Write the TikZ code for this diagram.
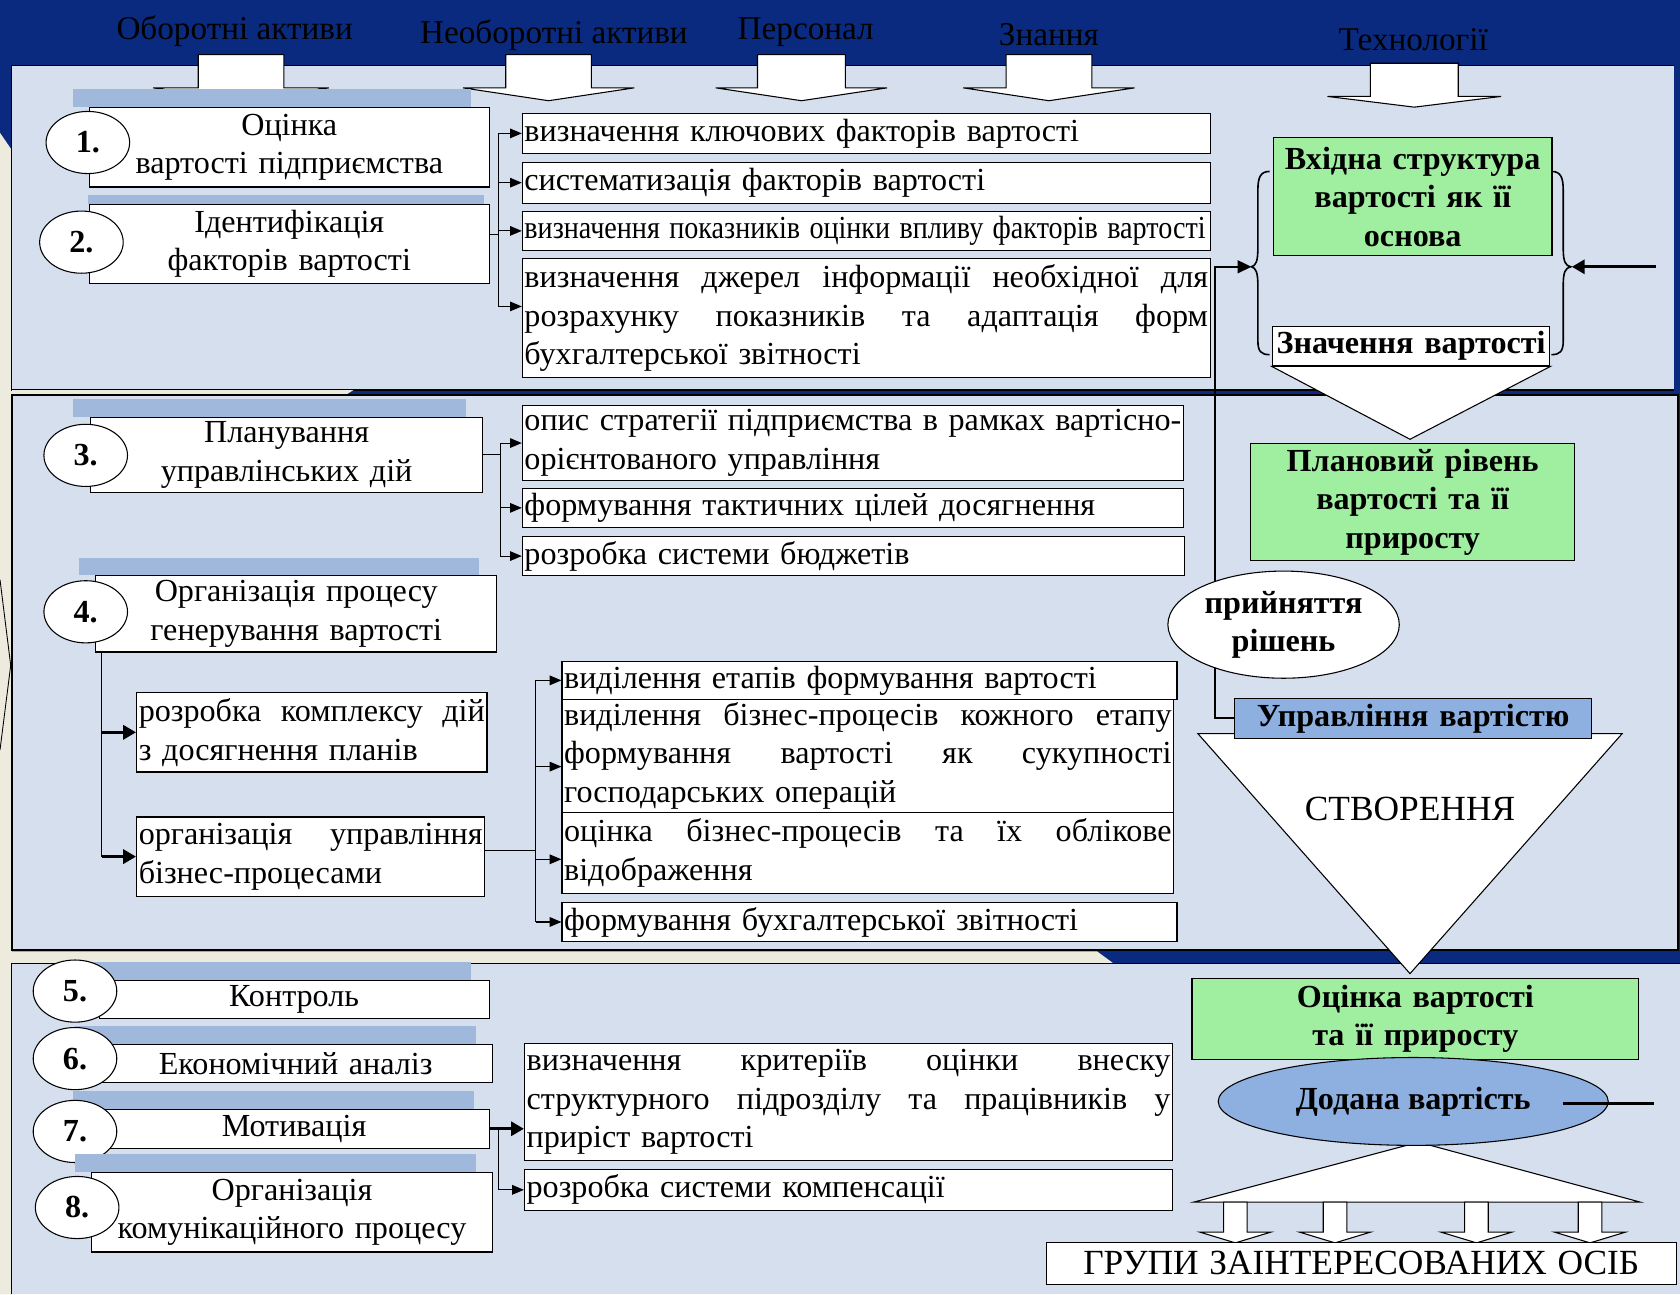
\documentclass[tikz,border=0pt]{standalone}
\usepackage{fontspec}
\usepackage{graphicx}
\setmainfont{Liberation Serif}
\usetikzlibrary{shapes.geometric,arrows.meta}
\definecolor{navy}{RGB}{10,42,128}
\definecolor{panel}{RGB}{214,223,238}
\definecolor{beige}{RGB}{237,235,222}
\definecolor{barblue}{RGB}{160,184,220}
\definecolor{lgreen}{RGB}{160,238,160}
\definecolor{sblue}{RGB}{141,176,224}
\newcommand\jl[1]{{\spaceskip=0.25em plus 20em\xspaceskip=0.25em plus 20em\makebox[\hsize][s]{#1}}\par}
\newcommand\bx[7]{\pgfmathsetmacro\tw{#4-4}\node[#6, minimum width=#4pt, minimum height=#5pt, text width=\tw pt] (#1) at (#2,#3) {#7};}
\newcommand\barrow[6]{\draw[blockarrow] (#1-#5,#2) -- (#1+#5,#2) -- (#1+#5,#3) -- (#1+#6,#3) -- (#1,#4) -- (#1-#6,#3) -- (#1-#5,#3) -- cycle;}
\begin{document}
\begin{tikzpicture}[x=1pt,y=-1pt,
  every node/.style={font=\fontsize{30}{36}\selectfont, inner sep=0pt},
  box/.style={draw=black, fill=white, line width=1pt, anchor=north west, inner xsep=2pt, inner ysep=0pt, align=left},
  cbox/.style={box, align=center},
  gbox/.style={box, fill=lgreen, align=center, font=\fontsize{30}{36}\selectfont\bfseries},
  num/.style={ellipse, draw=black, fill=white, line width=1pt, minimum width=78pt, minimum height=58pt, font=\fontsize{30}{34}\selectfont\bfseries},
  bar/.style={fill=barblue, draw=none},
  conn/.style={line width=1pt},
  arr/.style={line width=1pt, -{Triangle[length=11pt,width=9pt]}},
  tarr/.style={line width=3pt, -{Triangle[length=12pt,width=13pt]}},
  blockarrow/.style={draw=black, fill=white, line width=1pt},
  toplabel/.style={font=\fontsize{31}{36}\selectfont},
]
\useasboundingbox (0,0) rectangle (1568,1208);
% backgrounds
\fill[navy] (0,0) rectangle (1568,1208);
\fill[beige] (0,124) -- (11,140) -- (11,1208) -- (0,1208) -- cycle;
\fill[panel] (11,61) rectangle (1562,364);
\draw[line width=1.2pt] (1562,61) -- (11,61) -- (11,364) -- (1562,364);
\fill[beige] (11,364) -- (330,364) -- (322,369) -- (11,369) -- cycle;
\fill[panel] (11,369) rectangle (1566,887);
\draw[line width=2pt] (11,369) rectangle (1566,887);
\fill[beige] (11,888) -- (1024,888) -- (1039,899) -- (11,899) -- cycle;
\fill[panel] (11,899) rectangle (1568,1208);
\draw[line width=1.2pt] (1568,899) -- (11,899) -- (11,1208);
\draw[line width=0.8pt] (0,541) -- (10,621) -- (0,700);

% top labels and block arrows
\node[toplabel] (l1) at (219,29) {Оборотні активи};
\node[toplabel] (l2) at (517,33) {Необоротні активи};
\node[toplabel] (l3) at (752,30) {Персонал};
\node[toplabel] (l4) at (979,32) {Знання};
\node[toplabel] (l5) at (1319,37) {Технології};
\barrow{225}{51}{82}{94}{40}{82}
\barrow{512}{51}{82}{94}{40}{80}
\barrow{748}{51}{82}{94}{41}{80}
\barrow{979}{51}{82}{94}{40}{80}
\barrow{1320}{59}{90}{100}{41}{81}

% ---------- panel 1 ----------
\fill[bar] (68,83) rectangle (440,100);
\bx{s1}{83}{100}{373}{74}{cbox}{Оцінка\\вартості підприємства}
\fill[bar] (82,182) rectangle (452,190);
\bx{s2}{83}{190}{373}{74}{cbox}{Ідентифікація\\факторів вартості}
\node[num] (n1) at (82,133) {1.};
\node[num] (n2) at (76,226) {2.};

\bx{b1}{487}{105}{642}{38}{box}{визначення ключових факторів вартості}
\bx{b2}{487}{151}{642}{38}{box}{систематизація факторів вартості}
\bx{b3}{487}{197}{642}{36}{box}{\scalebox{0.875}[1]{визначення показників оцінки впливу факторів вартості}}
\bx{b4}{487}{241}{642}{111}{box}{\jl{визначення джерел інформації необхідної для}\jl{розрахунку показників та адаптація форм}бухгалтерської звітності}
\coordinate (bus1) at (465,0);
\draw[conn] (b1.west -| bus1) -- ([yshift=11pt]b4.west -| bus1);
\draw[conn] ([yshift=9pt]s2.east) -- ([yshift=9pt]s2.east -| bus1);
\draw[arr] (b1.west -| bus1) -- (b1.west);
\draw[arr] (b2.west -| bus1) -- (b2.west);
\draw[arr] (b3.west -| bus1) -- (b3.west);
\draw[arr] ([yshift=11pt]b4.west -| bus1) -- ([yshift=11pt]b4.west);

% right part panel 1
\bx{g1}{1188}{128}{260}{110}{gbox}{Вхідна структура\\вартості як її\\основа}
\bx{v1}{1187}{304}{259}{37}{cbox}{\bfseries Значення вартості}
\draw[blockarrow] (v1.south west) -- (v1.south east) -- (1316,410) -- cycle;
\draw[line width=1.5pt] (1185,160) .. controls (1176,160) and (1174,166) .. (1174,178) -- (1174,232) .. controls (1174,244) and (1172,248) .. (1168,249) .. controls (1172,250) and (1174,254) .. (1174,266) -- (1174,318) .. controls (1174,328) and (1177,331) .. (1185,331);
\draw[line width=1.5pt] (1448,160) .. controls (1457,160) and (1459,166) .. (1459,178) -- (1459,232) .. controls (1459,244) and (1461,248) .. (1466,249) .. controls (1461,250) and (1459,254) .. (1459,266) -- (1459,318) .. controls (1459,328) and (1456,331) .. (1448,331);
\coordinate (ltip) at (1168,249);
\coordinate (rtip) at (1467,249);
\coordinate (rsrc) at (1546,249);
\draw[tarr] (rsrc) -- (rtip);

% ---------- panel 2 ----------
\fill[bar] (68,372) rectangle (435,389);
\bx{s3}{84}{389}{366}{70}{cbox}{Планування\\управлінських дій}
\node[num] (n3) at (80,425) {3.};
\bx{c1}{487}{378}{617}{70}{box}{\jl{опис стратегії підприємства в рамках вартісно-}орієнтованого управління}
\bx{c2}{487}{455}{617}{37}{box}{формування тактичних цілей досягнення}
\bx{c3}{487}{500}{618}{37}{box}{розробка системи бюджетів}
\coordinate (bus3) at (467,0);
\draw[conn] (s3.east) -- (s3.east -| bus3);
\draw[conn] (c1.west -| bus3) -- (c3.west -| bus3);
\draw[arr] (c1.west -| bus3) -- (c1.west);
\draw[arr] (c2.west -| bus3) -- (c2.west);
\draw[arr] (c3.west -| bus3) -- (c3.west);

\fill[bar] (74,521) rectangle (447,537);
\bx{s4}{89}{537}{374}{71}{cbox}{Організація процесу\\генерування вартості}
\node[num] (n4) at (80,571) {4.};
\bx{d1}{127}{646}{327}{74}{box}{\jl{розробка комплексу дій}з досягнення планів}
\bx{d2}{127}{762}{325}{74}{box}{\jl{організація управління}бізнес-процесами}
\coordinate (bus4) at (95,0);
\draw[conn] (s4.south -| bus4) -- (d2.west -| bus4);
\draw[tarr] (d1.west -| bus4) -- (d1.west);
\draw[tarr] (d2.west -| bus4) -- (d2.west);

\bx{e1}{524}{617}{574}{35}{box}{виділення етапів формування вартості}
\bx{e2}{524}{652}{571}{106}{box}{\jl{виділення бізнес-процесів кожного етапу}\jl{формування вартості як сукупності}господарських операцій}
\bx{e3}{524}{758}{571}{75}{box}{\jl{оцінка бізнес-процесів та їх облікове}відображення}
\bx{e4}{524}{842}{574}{36}{box}{формування бухгалтерської звітності}
\coordinate (bus5) at (500,0);
\draw[conn] ([yshift=6pt]d2.east) -- ([yshift=6pt]d2.east -| bus5);
\draw[conn] (e1.west -| bus5) -- (e4.west -| bus5);
\draw[arr] (e1.west -| bus5) -- (e1.west);
\draw[arr] ([yshift=-10pt]e2.west -| bus5) -- ([yshift=-10pt]e2.west);
\draw[arr] ([yshift=-6pt]e3.west -| bus5) -- ([yshift=-6pt]e3.west);
\draw[arr] (e4.west -| bus5) -- (e4.west);

% right part panel 2
\bx{g2}{1167}{413}{302}{110}{gbox}{Плановий рівень\\вартості та її\\приросту}
\node[draw=black, fill=white, line width=1pt, isosceles triangle, shape border rotate=-90, isosceles triangle stretches, minimum width=396pt, minimum height=224pt, anchor=apex] (tri) at (1316,910) {};
\node[font=\fontsize{33}{36}\selectfont] (cr) at (1316,755) {СТВОРЕННЯ};
\bx{uv}{1152}{651}{333}{38}{gbox, fill=sblue}{Управління вартістю}
\coordinate (vline) at (1134,0);
\draw[line width=2pt, -{Triangle[length=13pt,width=12pt]}] (uv.west) -- (uv.west -| vline) -- (ltip -| vline) -- (ltip);
\node[ellipse, draw=black, fill=white, line width=1pt, minimum width=216pt, minimum height=100pt, align=center, font=\fontsize{30}{36}\selectfont\bfseries] (pr) at (1198,583) {прийняття\\рішень};

% ---------- panel 3 ----------
\fill[bar] (68,898) rectangle (440,915);
\bx{s5}{92}{915}{364}{35}{cbox}{Контроль}
\node[num] (n5) at (70,925) {5.};
\fill[bar] (70,958) rectangle (444,974);
\bx{s6}{92}{974}{367}{36}{cbox}{Економічний аналіз}
\node[num] (n6) at (70,988) {6.};
\fill[bar] (68,1018) rectangle (442,1035);
\bx{s7}{92}{1035}{364}{36}{cbox}{Мотивація}
\node[num] (n7) at (70,1056) {7.};
\fill[bar] (70,1077) rectangle (444,1094);
\bx{s8}{85}{1094}{374}{74}{cbox}{Організація\\комунікаційного процесу}
\node[num] (n8) at (72,1127) {8.};

\bx{f1}{489}{973}{605}{110}{box}{\jl{визначення критеріїв оцінки внеску}\jl{структурного підрозділу та працівників у}приріст вартості}
\bx{f2}{489}{1091}{605}{38}{box}{розробка системи компенсації}
\coordinate (bus7) at (465,0);
\draw[tarr] (s7.east) -- (s7.east -| f1.west);
\draw[conn] (s7.east -| bus7) -- (f2.west -| bus7);
\draw[arr] (f2.west -| bus7) -- (f2.west);

% right part panel 3
\bx{g3}{1112}{913}{417}{75}{gbox}{Оцінка вартості\\та її приросту}
\draw[blockarrow] (1114,1122) -- (1324,1066) -- (1531,1122) -- cycle;
\node[ellipse, draw=black, fill=sblue, line width=1pt, minimum width=364pt, minimum height=82pt, font=\fontsize{30}{36}\selectfont\bfseries] (dv) at (1319,1028) {Додана вартість};
\coordinate (dvl) at (1459,1030);
\coordinate (dvr) at (1544,1030);
\draw[line width=2.5pt] (dvl) -- (dvr);
\barrow{1153}{1122}{1150}{1160}{11}{33}
\barrow{1246}{1122}{1150}{1160}{11}{33}
\barrow{1378}{1122}{1150}{1160}{11}{33}
\barrow{1484}{1122}{1150}{1160}{11}{33}
\bx{gr}{976}{1159}{588}{39}{cbox}{\fontsize{33}{36}\selectfont ГРУПИ ЗАІНТЕРЕСОВАНИХ ОСІБ}
\end{tikzpicture}
\end{document}
